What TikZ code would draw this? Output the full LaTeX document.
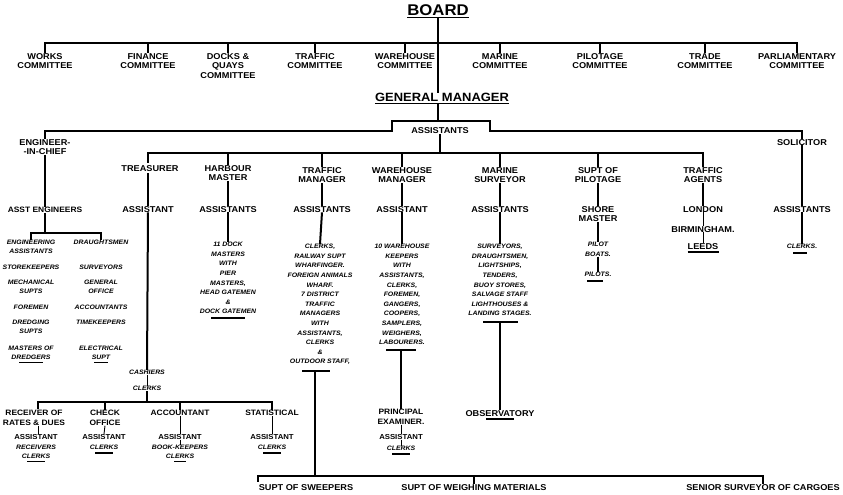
\documentclass[tikz,border=0pt]{standalone}
\usepackage{fontspec}
\newfontfamily\chartfont{Liberation Sans}[FakeStretch=1.08]
\begin{document}
\begin{tikzpicture}[x=1pt,y=-1pt,
  hd/.style={font=\chartfont\bfseries\fontsize{8.5}{9.6}\selectfont, align=center, inner sep=0pt, anchor=north},
  md/.style={font=\chartfont\bfseries\fontsize{7.8}{9.8}\selectfont, align=center, inner sep=0pt, anchor=north},
  sa/.style={font=\chartfont\bfseries\fontsize{7.2}{9}\selectfont, align=center, inner sep=0pt, anchor=north},
  it/.style={font=\chartfont\bfseries\itshape\fontsize{6.4}{9.6}\selectfont, align=center, inner sep=0pt, anchor=north},
  itc/.style={font=\chartfont\bfseries\itshape\fontsize{6.4}{8.4}\selectfont, align=center, inner sep=0pt, anchor=north},
  bar/.style={line width=2.6pt, line cap=rect},
  vl/.style={line width=2pt},
  tk/.style={line width=0.9pt},
  dk/.style={line width=1.4pt},
  ul/.style={line width=1.3pt}]
\useasboundingbox (0,0) rectangle (843,495);
\fill[white] (0,0) rectangle (843,495);

% ---------------- coordinates of bars
\coordinate (y43) at (0,43);
\coordinate (y131) at (0,131);
\coordinate (y121) at (0,121);
\coordinate (y153) at (0,153);
\coordinate (y233) at (0,233);
\coordinate (y402) at (0,402);
\coordinate (y476) at (0,476);

% ---------------- board
\node[font=\chartfont\bfseries\fontsize{15.5}{16}\selectfont, inner sep=0pt] (board) at (438,10) {BOARD};
\draw[line width=1.6pt] ([yshift=-1.8pt]board.south west) -- ([yshift=-1.8pt]board.south east);

% committees
\node[hd] (works) at (45,53) {WORKS\\COMMITTEE};
\node[hd] (finance) at (148,53) {FINANCE\\COMMITTEE};
\node[hd] (docks) at (228,53) {DOCKS \&\\QUAYS\\COMMITTEE};
\node[hd] (trafc) at (315,53) {TRAFFIC\\COMMITTEE};
\node[hd] (wareh) at (405,53) {WAREHOUSE\\COMMITTEE};
\node[hd] (marc) at (500,53) {MARINE\\COMMITTEE};
\node[hd] (pilc) at (600,53) {PILOTAGE\\COMMITTEE};
\node[hd] (trade) at (705,53) {TRADE\\COMMITTEE};
\node[hd] (parl) at (797,53) {PARLIAMENTARY\\COMMITTEE};
\draw[bar] (works.north |- y43) -- (parl.north |- y43);
\foreach \n in {works,finance,docks,trafc,wareh,marc,pilc,trade,parl}
  \draw[dk] (\n.north |- y43) -- (\n.north);

% general manager
\node[font=\chartfont\bfseries\fontsize{12}{13}\selectfont, inner sep=0pt] (gm) at (442,97) {GENERAL MANAGER};
\draw[line width=1.4pt] ([yshift=-1.8pt]gm.south west) -- ([yshift=-1.8pt]gm.south east);
\draw[vl] ([yshift=-1.8pt]board.south) -- (board.south |- gm.north);
\draw[vl] ([yshift=-2pt]board.south |- gm.south) -- (board.south |- y121);

% assistants of GM
\node[hd, anchor=center] (asst) at (440,131) {ASSISTANTS};
\node[hd] (eng) at (45,139) {ENGINEER-\\-IN-CHIEF};
\node[hd] (sol) at (802,139) {SOLICITOR};
\draw[bar] (eng.north |- y131) -- (392,131) -- (392,121) -- (490,121) -- (490,131) -- (sol.north |- y131);
\draw[vl] (eng.north |- y131) -- (eng.north);
\draw[vl] (sol.north |- y131) -- (sol.north);
\draw[vl] (asst.south) -- (asst.south |- y153);

% second level
\node[hd] (treas) at (150,165) {TREASURER};
\node[hd] (harb) at (228,165) {HARBOUR\\MASTER};
\node[hd] (trafm) at (322,167) {TRAFFIC\\MANAGER};
\node[hd] (warem) at (402,167) {WAREHOUSE\\MANAGER};
\node[hd] (mars) at (500,167) {MARINE\\SURVEYOR};
\node[hd] (supp) at (598,167) {SUPT OF\\PILOTAGE};
\node[hd] (trafa) at (703,167) {TRAFFIC\\AGENTS};
\draw[bar] (148,153) -- (trafa.north |- y153);
\draw[vl] (148,153) -- (148,163);
\foreach \n in {harb,trafm,warem,mars,supp,trafa}
  \draw[vl] (\n.north |- y153) -- (\n.north);

% third level
\node[md] (asste) at (45,207) {ASST ENGINEERS};
\node[hd] (treasa) at (148,206) {ASSISTANT};
\node[hd] (harba) at (228,206) {ASSISTANTS};
\node[hd] (trafma) at (322,206) {ASSISTANTS};
\node[hd] (werea) at (402,206) {ASSISTANT};
\node[hd] (marsa) at (500,206) {ASSISTANTS};
\node[hd] (shore) at (598,206) {SHORE\\MASTER};
\node[hd] (london) at (703,206) {LONDON};
\node[hd] (sola) at (802,206) {ASSISTANTS};
\draw[vl] (eng.south) -- (asste.north);
\draw[vl] (148,173) -- (treasa.north);
\draw[vl] (harb.south) -- (harba.north);
\draw[vl] (trafm.south) -- (trafma.north);
\draw[vl] (warem.south) -- (werea.north);
\draw[vl] (mars.south) -- (marsa.north);
\draw[vl] (supp.south) -- (shore.north);
\draw[vl] (trafa.south) -- (london.north);
\draw[vl] (sol.south) -- (sola.north);

% engineer staff
\node[itc] (el1) at (31,240) {ENGINEERING\\ASSISTANTS};
\node[itc] (el2) at (31,265) {STOREKEEPERS};
\node[itc] (el3) at (31,280) {MECHANICAL\\SUPTS};
\node[itc] (el4) at (31,305) {FOREMEN};
\node[itc] (el5) at (31,320) {DREDGING\\SUPTS};
\node[itc] (el6) at (31,346) {MASTERS OF\\DREDGERS};
\node[itc] (er1) at (101,240) {DRAUGHTSMEN};
\node[itc] (er2) at (101,265) {SURVEYORS};
\node[itc] (er3) at (101,280) {GENERAL\\OFFICE};
\node[itc] (er4) at (101,305) {ACCOUNTANTS};
\node[itc] (er5) at (101,320) {TIMEKEEPERS};
\node[itc] (er6) at (101,346) {ELECTRICAL\\SUPT};
\draw[vl] (asste.south) -- (asste.south |- y233);
\draw[bar, line width=2pt] (el1.north |- y233) -- (er1.north |- y233);
\draw[dk] (el1.north |- y233) -- (el1.north);
\draw[dk] (er1.north |- y233) -- (er1.north);
\draw[ul] ([xshift=-12pt,yshift=-3pt]el6.south) -- ([xshift=12pt,yshift=-3pt]el6.south);
\draw[ul] ([xshift=-7pt,yshift=-3pt]er6.south) -- ([xshift=7pt,yshift=-3pt]er6.south);

% harbour master staff
\node[it] (harbi) at (228,242) {11 DOCK\\MASTERS\\WITH\\PIER\\MASTERS,\\HEAD GATEMEN\\\&\\DOCK GATEMEN};
\draw[vl] (harba.south) -- (harbi.north);
\draw[ul] ([xshift=-17pt,yshift=-4pt]harbi.south) -- ([xshift=17pt,yshift=-4pt]harbi.south);

% traffic manager staff
\node[it] (trafi) at (320,244) {CLERKS,\\RAILWAY SUPT\\WHARFINGER.\\FOREIGN ANIMALS\\WHARF.\\7 DISTRICT\\TRAFFIC\\MANAGERS\\WITH\\ASSISTANTS,\\CLERKS\\\&\\OUTDOOR STAFF,};
\draw[vl] (trafma.south) -- (trafi.north);
\coordinate (tfu) at (315,371);
\draw[ul] (302,371) -- (330,371);

% warehouse staff
\node[it] (warei) at (402,244) {10 WAREHOUSE\\KEEPERS\\WITH\\ASSISTANTS,\\CLERKS,\\FOREMEN,\\GANGERS,\\COOPERS,\\SAMPLERS,\\WEIGHERS,\\LABOURERS.};
\draw[vl] (werea.south) -- (warei.north);
\draw[ul] (386,350) -- (416,350);
\node[md] (princ) at (401,409) {PRINCIPAL\\EXAMINER.};
\node[sa] (princa) at (401,434) {ASSISTANT};
\node[it] (princc) at (401,446) {CLERKS};
\draw[vl] (401,350) -- (princ.north);
\draw[tk] (princ.south) -- (princa.north);
\draw[tk] (princa.south) -- (princc.north);
\draw[ul] ([xshift=-9pt,yshift=-3pt]princc.south) -- ([xshift=9pt,yshift=-3pt]princc.south);

% marine surveyor staff
\node[it] (marsi) at (500,244) {SURVEYORS,\\DRAUGHTSMEN,\\LIGHTSHIPS,\\TENDERS,\\BUOY STORES,\\SALVAGE STAFF\\LIGHTHOUSES \&\\LANDING STAGES.};
\draw[vl] (marsa.south) -- (marsi.north);
\draw[ul] (483,322) -- (518,322);
\node[hd] (obs) at (500,410) {OBSERVATORY};
\draw[vl] (500,322) -- (obs.north);
\draw[ul] ([xshift=-14pt,yshift=-2.5pt]obs.south) -- ([xshift=14pt,yshift=-2.5pt]obs.south);

% pilotage
\node[it] (pboats) at (598,242) {PILOT\\BOATS.};
\node[it] (pilots) at (598,272) {PILOTS.};
\draw[vl] (shore.south) -- (pboats.north);
\draw[tk, line width=1.2pt] (pboats.south) -- (pilots.north);
\draw[ul] ([xshift=-11pt,yshift=-4pt]pilots.south) -- ([xshift=5pt,yshift=-4pt]pilots.south);

% traffic agents
\node[hd] (birm) at (703,226) {BIRMINGHAM.};
\node[hd] (leeds) at (703,243) {LEEDS};
\draw[tk] (london.south) -- (birm.north);
\draw[tk] (birm.south) -- (leeds.north);
\draw[ul] ([yshift=-2.5pt]leeds.south west) -- ([yshift=-2.5pt]leeds.south east);

% solicitor
\node[it] (solc) at (802,244) {CLERKS.};
\draw[vl] (sola.south) -- (solc.north);
\draw[ul] ([xshift=-9pt,yshift=-4pt]solc.south) -- ([xshift=5pt,yshift=-4pt]solc.south);

% treasurer staff
\node[it] (cash) at (147,370) {CASHIERS};
\node[it] (cclerks) at (147,386) {CLERKS};
\draw[vl] (treasa.south) -- (cash.north);
\draw[tk] (cash.south) -- (cclerks.north);
\draw[vl] (cclerks.south) -- (cclerks.south |- y402);

\node[md] (recv) at (34,410) {RECEIVER OF\\RATES \& DUES};
\node[md] (check) at (105,410) {CHECK\\OFFICE};
\node[md] (acct) at (180,410) {ACCOUNTANT};
\node[md] (stat) at (272,410) {STATISTICAL};
\coordinate (rx) at (38,402);
\draw[bar, line width=2.2pt] (rx) -- (stat.north |- y402);
\draw[dk] (rx) -- (38,409);
\foreach \n in {check,acct,stat}
  \draw[dk] (\n.north |- y402) -- (\n.north);

\node[sa] (recva) at (36,434) {ASSISTANT};
\node[sa] (checka) at (104,434) {ASSISTANT};
\node[sa] (accta) at (180,434) {ASSISTANT};
\node[sa] (stata) at (272,434) {ASSISTANT};
\draw[tk] (recv.south -| rx) -- (recva.north -| rx);
\draw[tk] (check.south) -- (checka.north);
\draw[tk] (acct.south) -- (accta.north);
\draw[tk] (stat.south) -- (stata.north);

\node[itc] (recvc) at (36,445) {RECEIVERS\\CLERKS};
\node[it] (checkc) at (104,445) {CLERKS};
\node[itc] (acctc) at (180,445) {BOOK-KEEPERS\\CLERKS};
\node[it] (statc) at (272,445) {CLERKS};
\draw[tk] (accta.south) -- (acctc.north);
\draw[ul] ([xshift=-9pt,yshift=-3pt]recvc.south) -- ([xshift=9pt,yshift=-3pt]recvc.south);
\draw[ul] ([xshift=-9pt,yshift=-3pt]checkc.south) -- ([xshift=9pt,yshift=-3pt]checkc.south);
\draw[ul] ([xshift=-6pt,yshift=-3pt]acctc.south) -- ([xshift=6pt,yshift=-3pt]acctc.south);
\draw[ul] ([xshift=-9pt,yshift=-3pt]statc.south) -- ([xshift=9pt,yshift=-3pt]statc.south);

% bottom row
\node[hd] (sweep) at (306,484) {SUPT OF SWEEPERS};
\node[hd] (weigh) at (474,484) {SUPT OF WEIGHING MATERIALS};
\node[hd] (senior) at (763,484) {SENIOR SURVEYOR OF CARGOES};
\draw[vl] (tfu) -- (tfu |- y476);
\draw[bar, line width=2.2pt] (258,476) -- (senior.north |- y476);
\draw[dk] (258,476) -- (258,482);
\draw[dk] (weigh.north |- y476) -- (weigh.north);
\draw[dk] (senior.north |- y476) -- (senior.north);
\end{tikzpicture}
\end{document}
